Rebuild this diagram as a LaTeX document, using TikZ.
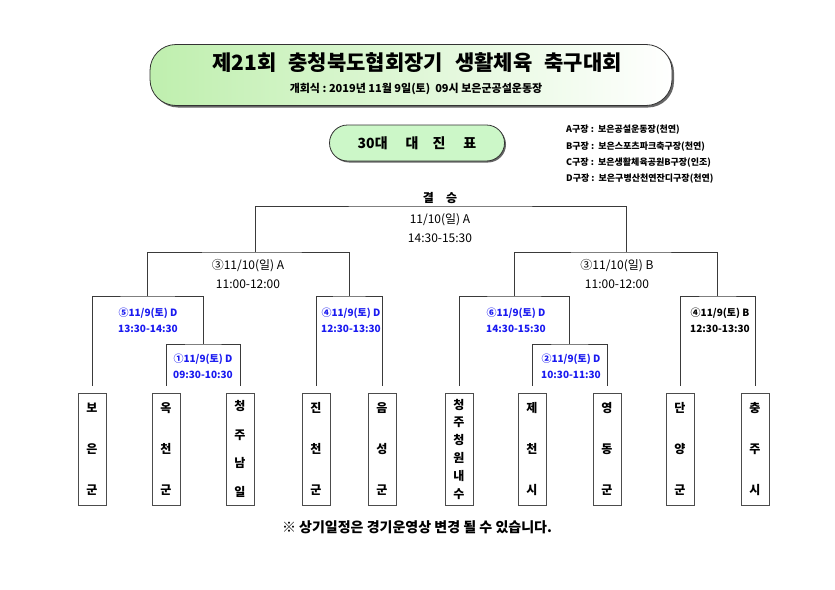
\documentclass[tikz,border=0pt]{standalone}
\usepackage{fontspec}
\setmainfont{Noto Sans CJK KR}
\usetikzlibrary{shadows}
\definecolor{titlegreen}{HTML}{BFEFAE}
\definecolor{pillgreen}{HTML}{CCF7C8}
\definecolor{matchblue}{HTML}{1A1AF0}
\definecolor{linegray}{HTML}{3A3A3A}

\begin{document}
\begin{tikzpicture}[x=1pt,y=-1pt,
  bline/.style={draw=linegray,line width=1pt},
  team/.style={draw=black!70,line width=0.9pt,minimum width=28pt,minimum height=112pt,inner sep=0pt,align=center,font=\bfseries\fontsize{12}{#1}\selectfont},
  info/.style={align=center,font=\bfseries\fontsize{10}{16}\selectfont},
  stage/.style={align=center,font=\fontsize{12}{19}\selectfont},
  legend/.style={anchor=west,inner sep=0pt,font=\bfseries\fontsize{9}{10}\selectfont},
]
\useasboundingbox (0,0) rectangle (835,589);
% header
\node[draw=black!80,line width=0.8pt,rounded corners=26pt,minimum width=522pt,minimum height=61pt,
  left color=titlegreen,right color=white,
  drop shadow={shadow xshift=2pt,shadow yshift=-2pt,fill=black!60,opacity=1}] (head) at (411,75) {};
\node[font=\bfseries\fontsize{21}{24}\selectfont] (title) at (417,63) {제21회\hspace{12pt}충청북도협회장기\hspace{12pt}생활체육\hspace{12pt}축구대회};
\node[font=\bfseries\fontsize{11}{13}\selectfont] (open) at (416,89) {개회식 :\ 2019년\ 11월\ 9일(토)\ \ 09시\ 보은군공설운동장};
\node[draw=black!80,line width=0.8pt,rounded corners=18pt,minimum width=175pt,minimum height=36pt,fill=pillgreen,
  drop shadow={shadow xshift=1.5pt,shadow yshift=-1.5pt,fill=black!60,opacity=1},
  font=\bfseries\fontsize{14}{16}\selectfont] (plate) at (417,143) {30대\hspace{18pt}대\hspace{14pt}진\hspace{18pt}표};
% venues
\node[legend] (va) at (566,130) {A구장 :\ \ 보은공설운동장(천연)};
\node[legend] (vb) at (566,147) {B구장 :\ \ 보은스포츠파크축구장(천연)};
\node[legend] (vc) at (566,163) {C구장 :\ \ 보은생활체육공원B구장(인조)};
\node[legend] (vd) at (566,179) {D구장 :\ \ 보은구병산천연잔디구장(천연)};
% teams
\node[team=41] (t1) at (92,449) {보\\은\\군};
\node[team=41] (t2) at (166,449) {옥\\천\\군};
\node[team=28.5] (t3) at (240,449) {청\\주\\남\\일};
\node[team=41] (t4) at (316,449) {진\\천\\군};
\node[team=41] (t5) at (382,449) {음\\성\\군};
\node[team=17.8] (t6) at (459,449) {청\\주\\청\\원\\내\\수};
\node[team=41] (t7) at (532,449) {제\\천\\시};
\node[team=41] (t8) at (607,449) {영\\동\\군};
\node[team=41] (t9) at (680,449) {단\\양\\군};
\node[team=41] (t10) at (755,449) {충\\주\\시};
% junctions
\coordinate (j1) at (203,344);
\coordinate (j2) at (569.5,344);
\coordinate (j5) at (147.5,296);
\coordinate (j4) at (349,296);
\coordinate (j6) at (514,296);
\coordinate (j3) at (717.5,296);
\coordinate (jA) at (255,252);
\coordinate (jB) at (626,252);
\coordinate (jF) at (440,206);
% match labels
\node[info,matchblue] (m1) at (203,366) {①11/9(토) D\\09:30-10:30};
\node[info,matchblue] (m5) at (148,320) {⑤11/9(토) D\\13:30-14:30};
\node[info,matchblue] (m4) at (351,320) {④11/9(토) D\\12:30-13:30};
\node[info,matchblue] (m6) at (516,320) {⑥11/9(토) D\\14:30-15:30};
\node[info,matchblue] (m2) at (571,366) {②11/9(토) D\\10:30-11:30};
\node[info] (m3) at (720,320) {④11/9(토) B\\12:30-13:30};
\node[stage] (sA) at (248,274) {③11/10(일) A\\11:00-12:00};
\node[stage] (sB) at (617,274) {③11/10(일) B\\11:00-12:00};
\node[stage] (fin) at (440,228) {11/10(일) A\\14:30-15:30};
\node[font=\bfseries\fontsize{12}{14}\selectfont] (final) at (440,198) {결\hspace{12pt}승};
% bracket
\draw[bline] ([yshift=7pt]t2.north) |- (j1) -| ([yshift=7pt]t3.north);
\draw[bline] ([yshift=7pt]t1.north) |- (j5) -| (j1);
\draw[bline] ([yshift=7pt]t4.north) |- (j4) -| ([yshift=7pt]t5.north);
\draw[bline] ([yshift=7pt]t7.north) |- (j2) -| ([yshift=7pt]t8.north);
\draw[bline] ([yshift=7pt]t6.north) |- (j6) -| (j2);
\draw[bline] ([yshift=7pt]t9.north) |- (j3) -| ([yshift=7pt]t10.north);
\draw[bline] (j5) |- (jA) -| (j4);
\draw[bline] (j6) |- (jB) -| (j3);
\draw[bline] (jA) |- (jF) -| (jB);
% note
\node[font=\bfseries\fontsize{14}{16}\selectfont] (note) at (417,527) {※ 상기일정은 경기운영상 변경 될 수 있습니다.};
\end{tikzpicture}
\end{document}
